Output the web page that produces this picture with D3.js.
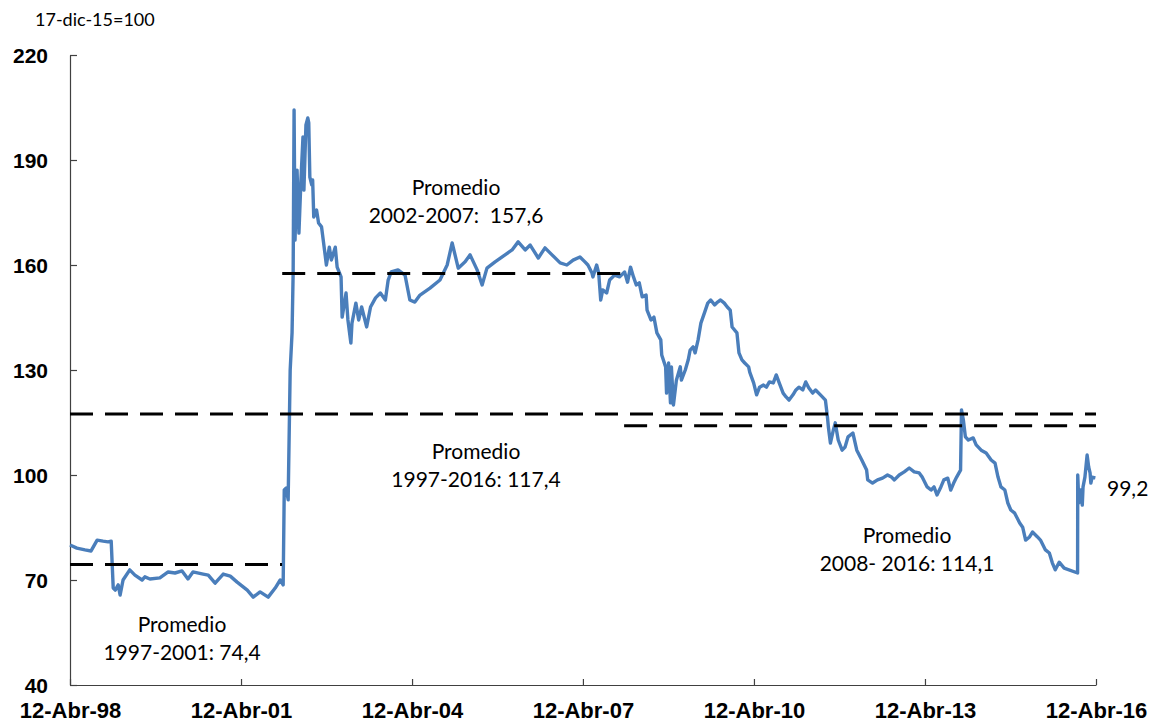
<!DOCTYPE html>
<html>
<head>
<meta charset="utf-8">
<script src="https://cdn.jsdelivr.net/npm/d3@7"></script>
<style>
  body { margin: 0; background: #fff; }
  svg { display: block; font-family: Lato, "Open Sans", sans-serif; }
</style>
</head>
<body>
<svg id="vis" width="1158" height="724"></svg>
<script>
// index (17-dic-15 = 100)
var dates = [
  "1998-04-12","1998-05-26","1998-07-17","1998-08-25","1998-10-03","1998-11-10","1998-12-12","1999-01-01",
  "1999-01-14","1999-01-27","1999-02-15","1999-02-27","1999-03-18","1999-04-30","1999-06-02","1999-07-18",
  "1999-08-05","1999-09-06","1999-11-09","2000-01-01","2000-02-14","2000-03-30","2000-05-07","2000-06-08",
  "2000-08-12","2000-09-14","2000-10-28","2000-12-19","2001-02-02","2001-03-18","2001-05-22","2001-06-29",
  "2001-08-12","2001-10-03","2001-11-17","2001-12-19","2002-01-07","2002-01-14","2002-01-27","2002-02-08",
  "2002-02-21","2002-03-05","2002-03-12","2002-03-18","2002-03-24","2002-04-06","2002-04-18","2002-05-01",
  "2002-05-14","2002-05-20","2002-06-02","2002-06-14","2002-06-20","2002-06-27","2002-07-09","2002-07-15",
  "2002-07-22","2002-08-09","2002-08-22","2002-09-10","2002-09-29","2002-10-11","2002-10-30","2002-11-12",
  "2002-12-07","2002-12-19","2003-01-13","2003-01-20","2003-02-14","2003-02-26","2003-03-17","2003-03-24",
  "2003-04-18","2003-05-06","2003-05-25","2003-06-26","2003-07-21","2003-08-22","2003-09-22","2003-10-24",
  "2003-11-11","2003-11-30","2004-01-13","2004-02-27","2004-03-29","2004-04-30","2004-06-02","2004-08-05",
  "2004-10-08","2004-11-23","2004-12-25","2005-02-02","2005-03-18","2005-04-19","2005-06-03","2005-07-05",
  "2005-08-05","2005-09-26","2005-11-29","2006-01-13","2006-02-21","2006-04-07","2006-05-09","2006-06-30",
  "2006-08-12","2006-09-26","2006-11-17","2006-12-30","2007-02-08","2007-03-24","2007-04-25","2007-05-14",
  "2007-06-09","2007-06-15","2007-07-09","2007-07-22","2007-08-04","2007-08-17","2007-09-11","2007-09-30",
  "2007-11-01","2007-12-03","2008-01-04","2008-01-23","2008-02-11","2008-03-01","2008-03-19","2008-04-07",
  "2008-04-26","2008-05-21","2008-05-27","2008-06-21","2008-07-10","2008-07-29","2008-08-23","2008-08-29",
  "2008-09-23","2008-09-29","2008-10-12","2008-10-24","2008-10-30","2008-11-12","2008-12-01","2008-12-26",
  "2009-01-02","2009-01-27","2009-02-15","2009-02-27","2009-03-18","2009-03-31","2009-04-19","2009-05-07",
  "2009-06-01","2009-06-20","2009-07-09","2009-08-03","2009-08-22","2009-09-10","2009-10-04","2009-10-23",
  "2009-11-11","2009-11-23","2009-12-24","2010-01-06","2010-01-25","2010-02-12","2010-03-09","2010-03-16",
  "2010-04-10","2010-04-29","2010-05-18","2010-06-12","2010-07-01","2010-07-20","2010-08-14","2010-09-02",
  "2010-09-21","2010-10-16","2010-11-04","2010-11-23","2010-12-18","2011-01-06","2011-01-25","2011-02-19",
  "2011-03-10","2011-03-29","2011-04-23","2011-05-12","2011-06-12","2011-07-14","2011-07-27","2011-08-02",
  "2011-08-15","2011-09-03","2011-09-15","2011-10-04","2011-10-29","2011-11-17","2011-12-06","2012-01-06",
  "2012-01-31","2012-03-03","2012-04-03","2012-04-10","2012-05-11","2012-06-12","2012-07-14","2012-08-15",
  "2012-09-09","2012-09-28","2012-10-29","2012-11-30","2013-01-01","2013-02-02","2013-03-06","2013-03-25",
  "2013-04-26","2013-05-21","2013-06-09","2013-06-28","2013-07-23","2013-08-11","2013-09-05","2013-09-24",
  "2013-10-13","2013-11-01","2013-11-26","2013-12-02","2013-12-14","2013-12-27","2014-01-15","2014-02-15",
  "2014-03-06","2014-04-07","2014-05-09","2014-06-10","2014-07-05","2014-07-24","2014-08-12","2014-09-06",
  "2014-09-25","2014-10-14","2014-11-08","2014-12-10","2014-12-29","2015-01-17","2015-02-11","2015-03-02",
  "2015-04-03","2015-04-22","2015-05-24","2015-06-18","2015-07-07","2015-07-26","2015-08-20","2015-09-21",
  "2015-12-16","2015-12-17","2015-12-24","2016-01-06","2016-01-15","2016-01-20","2016-02-01","2016-02-15",
  "2016-02-25","2016-03-05","2016-03-10","2016-03-18","2016-04-08"
];
var values = [
  80.0,79.1,78.6,78.3,81.4,81.1,80.9,81.1,
  67.7,67.1,68.6,65.7,70.0,72.9,71.4,70.0,
  70.9,70.3,70.6,72.3,72.0,72.6,70.3,72.3,
  71.7,71.4,69.1,71.7,71.1,69.4,67.1,65.1,
  66.6,65.1,67.7,70.0,68.6,95.7,96.3,92.9,
  130.0,140.6,157.7,204.3,167.1,187.1,169.1,184.3,
  196.6,181.4,200.0,202.0,200.6,185.1,182.9,184.3,
  173.7,175.7,172.0,170.9,164.3,160.0,165.1,161.4,
  165.1,159.4,156.6,145.1,152.0,144.3,137.7,143.4,
  149.1,144.3,148.0,142.3,148.0,150.6,152.0,150.0,
  155.7,158.0,158.6,157.1,150.0,149.4,151.4,153.4,
  155.7,160.0,166.3,159.1,160.9,162.9,158.6,154.3,
  159.1,160.9,162.9,164.3,166.6,164.3,165.7,162.0,
  164.9,162.9,160.6,160.0,161.4,162.3,160.9,160.0,
  157.7,156.6,160.0,157.7,150.0,152.9,152.0,155.7,
  157.1,156.6,158.0,155.1,159.4,156.6,154.3,154.9,
  150.9,151.4,147.1,144.3,145.1,140.6,138.6,134.3,
  130.9,123.4,132.0,120.6,130.9,120.0,127.1,130.9,
  127.1,130.0,132.9,135.7,136.6,134.9,138.6,143.4,
  146.6,149.1,150.0,148.6,149.4,150.0,149.1,148.0,
  147.1,142.3,140.6,134.9,132.9,132.0,130.9,129.4,
  126.3,122.9,125.1,125.7,125.1,126.6,126.3,128.6,
  126.3,123.4,122.3,121.4,122.9,124.3,125.1,124.3,
  126.6,124.9,123.4,124.3,122.9,121.4,116.6,113.7,
  109.1,112.9,114.9,110.0,107.1,108.0,110.9,112.0,
  107.1,104.3,101.4,98.6,97.7,98.6,99.1,100.0,
  99.4,98.6,100.0,100.9,102.0,100.9,100.6,99.4,
  96.6,95.7,96.6,94.3,96.6,98.6,99.1,95.7,
  97.7,99.4,101.4,118.6,115.7,110.9,110.0,110.6,
  108.6,107.1,106.3,104.3,103.4,99.4,96.6,95.7,
  92.0,90.0,89.1,86.3,85.1,81.4,82.3,83.7,
  82.3,81.4,78.6,77.7,74.9,72.9,75.1,73.4,
  72.0,100.0,92.0,95.7,91.4,96.6,99.4,105.7,
  102.3,100.6,97.7,99.4,99.2
];

// period averages
var avgValues = [74.4, 157.6, 117.4, 114.1];
var avgStart = ["1998-04-12", "2002-01-01", "1998-04-12", "2008-01-01"];
var avgEnd = ["2001-12-31", "2007-12-31", "2016-04-12", "2016-04-12"];

var yTicks = [40, 70, 100, 130, 160, 190, 220];
var xTickDates = ["1998-04-12","2001-04-12","2004-04-12","2007-04-12","2010-04-12","2013-04-12","2016-04-12"];
var xTickLabels = ["12-Abr-98","12-Abr-01","12-Abr-04","12-Abr-07","12-Abr-10","12-Abr-13","12-Abr-16"];

var parse = d3.timeParse("%Y-%m-%d");

var margin = {t: 55, r: 62, b: 39, l: 70};
var width = 1158 - margin.l - margin.r;
var height = 724 - margin.t - margin.b;

var svg = d3.select('#vis');

var x = d3.scaleTime()
    .domain([parse("1998-04-12"), parse("2016-04-12")])
    .range([0, width]);

var y = d3.scaleLinear()
    .domain([40, 220])
    .range([height, 0]);

var g = svg.append('g')
    .attr('transform', 'translate(' + margin.l + ',' + margin.t + ')');

// axes, ticks pointing inside
var yAxis = g.append('g')
    .attr('class', 'axis axis--y')
    .call(d3.axisLeft(y).tickValues(yTicks).tickSizeInner(-7).tickSizeOuter(0).tickPadding(22));

yAxis.selectAll('text')
    .attr('dy', '0.36em')
    .style('font-size', '21px')
    .style('font-weight', 'bold')
    .attr('fill', '#000');

var xAxis = g.append('g')
    .attr('class', 'axis axis--x')
    .attr('transform', 'translate(0,' + height + ')')
    .call(d3.axisBottom(x)
        .tickValues(xTickDates.map(parse))
        .tickFormat(function (d, i) { return xTickLabels[i]; })
        .tickSizeInner(-6).tickSizeOuter(0));

// labels sit right at the bottom edge, as in the original
xAxis.selectAll('text')
    .attr('y', 33)
    .attr('dy', 0)
    .style('font-size', '22px')
    .style('font-weight', 'bold')
    .attr('fill', '#000');

svg.selectAll('.axis path, .axis line')
    .attr('stroke', '#404040')
    .attr('stroke-width', 1.2);

// the series
var series = dates.map(function (d, i) { return {date: parse(d), value: values[i]}; });

var line = d3.line()
    .x(function (d) { return x(d.date); })
    .y(function (d) { return y(d.value); });

g.append('path')
    .datum(series)
    .attr('fill', 'none')
    .attr('stroke', '#4a7ebb')
    .attr('stroke-width', 3.4)
    .attr('stroke-linejoin', 'round')
    .attr('d', line);

// dashed average lines
g.selectAll('.avg')
    .data(avgValues)
    .enter()
    .append('line')
    .attr('class', 'avg')
    .attr('x1', function (d, i) { return x(d3.max([parse(avgStart[i]), x.domain()[0]])); })
    .attr('x2', function (d, i) { return x(d3.min([parse(avgEnd[i]), x.domain()[1]])); })
    .attr('y1', function (d) { return y(d); })
    .attr('y2', function (d) { return y(d); })
    .attr('stroke', '#000')
    .attr('stroke-width', 3)
    .attr('stroke-dasharray', '23,12');

// unit label
svg.append('text')
    .attr('x', 35)
    .attr('y', 26)
    .style('font-size', '18px')
    .text('17-dic-15=100');

// annotations
var notes = [
    {x: 182, y: 632, lines: ['Promedio', '1997-2001: 74,4']},
    {x: 456, y: 195, lines: ['Promedio', '2002-2007:  157,6']},
    {x: 476, y: 459, lines: ['Promedio', '1997-2016: 117,4']},
    {x: 907, y: 543, lines: ['Promedio', '2008- 2016: 114,1']}
];

notes.forEach(function (n) {
    var t = svg.append('text')
        .attr('x', n.x)
        .attr('y', n.y)
        .style('font-size', '21px')
        .style('text-anchor', 'middle')
        .style('white-space', 'pre');
    n.lines.forEach(function (l, i) {
        t.append('tspan')
            .attr('x', n.x)
            .attr('dy', i === 0 ? 0 : 28)
            .text(l);
    });
});

svg.append('text')
    .attr('x', 1107)
    .attr('y', 496)
    .style('font-size', '21px')
    .text('99,2');
</script>
</body>
</html>
